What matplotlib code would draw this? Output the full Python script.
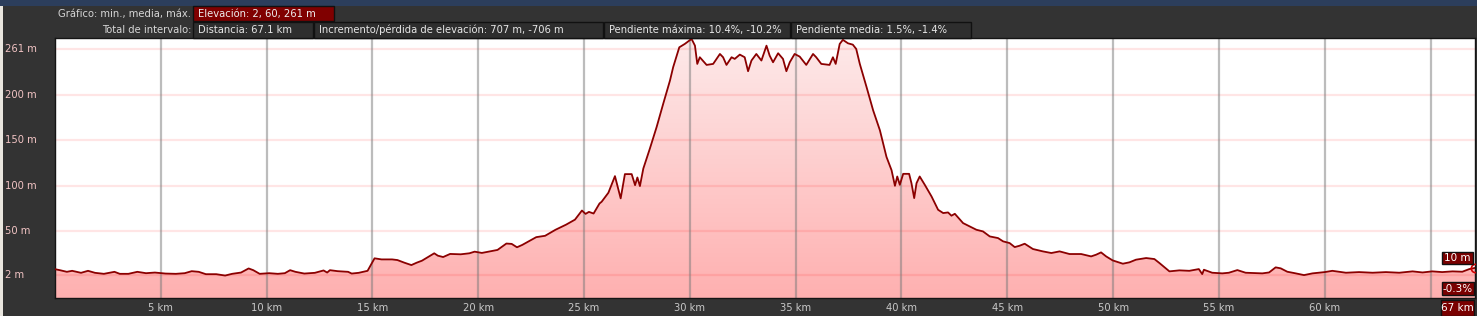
import numpy as np
import matplotlib.pyplot as plt
from matplotlib.patches import Rectangle, Polygon
from matplotlib.colors import LinearSegmentedColormap
from matplotlib.transforms import blended_transform_factory

# figure size in pixels
W, H = 1477, 316

# --- profile data (km, m)
dist_km = [0.0, 0.23, 0.56, 0.81, 1.23, 1.56, 1.89, 2.31, 2.81, 3.06, 3.47, 3.89,
           4.3, 4.72, 5.22, 5.71, 6.13, 6.46, 6.79, 7.13, 7.62, 8.04, 8.37, 8.79,
           9.15, 9.37, 9.67, 10.12, 10.53, 10.86, 11.11, 11.36, 11.78, 12.28, 12.69,
           12.86, 12.99, 13.36, 13.85, 14.02, 14.35, 14.77, 15.1, 15.43, 15.93, 16.18,
           16.51, 16.84, 17.09, 17.34, 17.92, 18.09, 18.34, 18.67, 19.17, 19.58, 19.83,
           20.17, 20.66, 20.91, 21.33, 21.58, 21.83, 22.08, 22.74, 23.16, 23.65, 24.15,
           24.57, 24.9, 25.07, 25.23, 25.45, 25.73, 25.83, 26.15, 26.46, 26.73, 26.93,
           27.25, 27.41, 27.52, 27.64, 27.8, 28.11, 28.43, 28.74, 29.06, 29.21, 29.5,
           29.76, 30.08, 30.24, 30.35, 30.47, 30.79, 31.1, 31.42, 31.57, 31.73, 31.97,
           32.12, 32.36, 32.59, 32.75, 32.91, 33.14, 33.38, 33.62, 33.77, 33.93, 34.17,
           34.4, 34.56, 34.72, 34.95, 35.19, 35.5, 35.82, 35.97, 36.21, 36.6, 36.76,
           36.89, 37.08, 37.23, 37.47, 37.7, 37.86, 38.03, 38.35, 38.66, 38.98, 39.29,
           39.53, 39.69, 39.8, 39.92, 40.08, 40.36, 40.47, 40.6, 40.71, 40.86, 41.1,
           41.42, 41.73, 41.97, 42.2, 42.36, 42.52, 42.91, 43.22, 43.54, 43.85, 44.17,
           44.56, 44.8, 45.11, 45.35, 45.58, 45.82, 46.21, 46.68, 47.08, 47.47, 47.94,
           48.49, 48.96, 49.2, 49.43, 49.67, 49.98, 50.46, 50.77, 51.08, 51.56, 51.95,
           52.19, 52.66, 53.13, 53.6, 54.05, 54.21, 54.29, 54.68, 55.16, 55.47, 55.87,
           56.26, 57.05, 57.37, 57.68, 57.92, 58.23, 58.63, 59.02, 59.42, 60.0, 60.36,
           61.0, 61.62, 62.26, 62.89, 63.52, 64.15, 64.62, 65.08, 65.55, 66.04, 66.5,
           66.83, 67.1]
elev_m = [8.6, 7.5, 5.7, 6.8, 4.6, 6.8, 4.6, 3.5, 5.7, 3.5, 3.5, 5.7,
          4.2, 4.9, 3.8, 3.5, 4.2, 6.4, 5.7, 3.1, 3.1, 1.6, 3.5, 4.9,
          9.4, 7.5, 3.5, 4.2, 3.5, 4.2, 7.5, 5.7, 3.8, 4.6, 7.2,
          4.9, 7.5, 6.4, 5.7, 3.8, 4.6, 6.8, 20.5, 19.3, 19.3, 18.6,
          15.7, 13.1, 15.7, 17.9, 26.0, 23.4, 21.9, 25.3, 24.9, 26.0, 27.8,
          26.4, 28.6, 29.7, 36.7, 36.3, 32.6, 35.2, 43.7, 45.2, 51.8, 57.4,
          62.9, 72.9, 69.2, 71.4, 69.6, 80.6, 82.5, 92.4, 110.6, 86.2, 112.8,
          112.8, 100.7, 109.1, 99.7, 118.9, 140.8, 164.5, 189.9, 215.4, 230.0, 251.8,
          255.5, 261.0, 253.6, 233.6, 240.9, 232.5, 233.6, 244.5, 240.9, 232.5, 240.9,
          239.1, 243.8, 240.9, 225.6, 237.3, 244.5, 237.3, 253.6, 242.7, 235.4, 245.3,
          239.1, 225.6, 235.4, 244.5, 241.6, 232.5, 244.5, 240.9, 233.6, 232.5, 240.9,
          233.6, 255.5, 260.0, 256.2, 254.7, 250.0, 233.6, 208.1, 182.7, 160.8, 131.7,
          117.1, 100.0, 110.2, 101.1, 113.1, 113.1, 102.9, 86.5, 102.9, 110.2, 101.1,
          88.3, 73.7, 70.1, 70.8, 67.2, 69.3, 59.1, 55.5, 51.8, 50.0, 44.5,
          42.7, 39.1, 37.2, 32.8, 34.3, 36.5, 30.7, 28.1, 26.3, 28.1, 25.2,
          25.2, 22.6, 24.5, 27.0, 22.6, 18.2, 14.6, 16.1, 19.0, 20.8, 19.7,
          15.3, 6.2, 7.3, 6.8, 8.7, 3.2, 8.0, 4.7, 4.0, 4.7, 7.6,
          4.7, 4.0, 5.0, 10.6, 9.5, 5.8, 4.0, 2.1, 4.0, 5.4, 6.8,
          4.7, 5.4, 4.7, 5.4, 4.7, 6.2, 5.0, 6.2, 5.4, 6.2, 5.8,
          8.7, 10.0]

# vertical grid every 5 km, the last label is hidden behind the end box
x_grid = [5, 10, 15, 20, 25, 30, 35, 40, 45, 50, 55, 60, 65]
x_ticks = [5, 10, 15, 20, 25, 30, 35, 40, 45, 50, 55, 60]
x_labels = ['%d km' % v for v in x_ticks]
y_grid = [2, 50, 100, 150, 200, 250]
y_labels = ['2 m', '50 m', '100 m', '150 m', '200 m', '261 m']

header_label_1 = 'Gráfico: min., media, máx.'
header_box_1 = 'Elevación: 2, 60, 261 m'
header_label_2 = 'Total de intervalo:'
header_boxes_2 = ['Distancia: 67.1 km',
                  'Incremento/pérdida de elevación: 707 m, -706 m',
                  'Pendiente máxima: 10.4%, -10.2%',
                  'Pendiente media: 1.5%, -1.4%']
end_elev = '10 m'
end_slope = '-0.3%'
end_dist = '67 km'

x_max = 67.1
y_min, y_max = -23, 262

plt.rcParams['font.family'] = ['DejaVu Sans']
fig = plt.figure(figsize=(W / 100, H / 100), dpi=100, facecolor='#333333')


def fx(px):
    return px / W


def fy(py):
    return 1 - py / H


def fig_box(x0, y0, x1, y1, face, edge='#111111', lw=1.0):
    r = Rectangle((fx(x0), fy(y1)), fx(x1) - fx(x0), fy(y0) - fy(y1),
                  transform=fig.transFigure, facecolor=face, edgecolor=edge,
                  linewidth=lw)
    fig.add_artist(r)


# map strip at the top and light border on the left
fig_box(0, 0, W, 6, '#2c3e5c', edge='none', lw=0)
fig_box(0, 6, 3, H, '#e9e6df', edge='none', lw=0)

# header, first row
fs = 7.2
fig.text(fx(191), fy(13.5), header_label_1, ha='right', va='center',
         color='#d6d6d6', fontsize=fs)
fig_box(193, 6, 334, 21, '#800000')
fig.text(fx(198), fy(13.5), header_box_1, ha='left', va='center',
         color='#eeeeee', fontsize=fs)

# header, second row
fig.text(fx(191), fy(30), header_label_2, ha='right', va='center',
         color='#d6d6d6', fontsize=fs)
box_edges = [193, 314, 604, 791, 972]
for i, txt in enumerate(header_boxes_2):
    fig_box(box_edges[i], 22, box_edges[i + 1] - 1, 38, '#2e2e2e')
    fig.text(fx(box_edges[i] + 5), fy(30), txt, ha='left', va='center',
             color='#e6e6e6', fontsize=fs)

# plot area
ax = fig.add_axes([fx(55), fy(298), fx(1475) - fx(55), fy(38) - fy(298)])
ax.set_facecolor('white')
ax.set_xlim(0, x_max)
ax.set_ylim(y_min, y_max)

# gradient fill under the profile
cmap = LinearSegmentedColormap.from_list('pk', ['#ffb0b0', '#fdeaea'])
grad = np.linspace(1, 0, 256).reshape(-1, 1)
im = ax.imshow(grad, extent=[0, x_max, y_min, y_max], aspect='auto',
               cmap=cmap, origin='upper', zorder=1)
verts = [(dist_km[0], y_min)] + list(zip(dist_km, elev_m)) + [(dist_km[-1], y_min)]
clip = Polygon(verts, closed=True, facecolor='none', edgecolor='none')
ax.add_patch(clip)
im.set_clip_path(clip)

# grid lines
for v in y_grid:
    ax.axhline(v, color='#ff0000', alpha=0.1, lw=1.6, zorder=2)
for v in x_grid:
    ax.axvline(v, color='#7a7a7a', alpha=0.5, lw=1.6, zorder=2)

ax.plot(dist_km, elev_m, color='#8b0000', lw=1.3, zorder=3,
        solid_joinstyle='round')
ax.plot(dist_km[-1], elev_m[-1], 'o', mfc='none', mec='#d00000', ms=6,
        mew=1.2, zorder=4, clip_on=True)

ax.set_xticks(x_ticks, x_labels)
ax.set_yticks([])
ax.tick_params(axis='x', length=0, pad=3.5, colors='#c8c8c8', labelsize=fs)
for s in ax.spines.values():
    s.set_color('#151515')
    s.set_linewidth(1.0)

# y labels on the left edge of the figure
tr = blended_transform_factory(fig.transFigure, ax.transData)
for v, lab in zip(y_grid, y_labels):
    ax.text(fx(5), v, lab, transform=tr, ha='left', va='center',
            color='#f2c4c4', fontsize=fs)

# value boxes at the right end
for (x0, y0, x1, y1), txt in zip([(1442, 252, 1473, 264), (1442, 282, 1474, 295),
                                  (1441, 300, 1474, 316)],
                                 [end_elev, end_slope, end_dist]):
    fig_box(x0, y0, x1, y1, '#7a0000', edge='#111111')
    fig.text(fx((x0 + x1) / 2), fy((y0 + y1) / 2), txt, ha='center',
             va='center', color='white', fontsize=fs + 0.3)

fig.savefig('out.png', dpi=100, facecolor=fig.get_facecolor())
